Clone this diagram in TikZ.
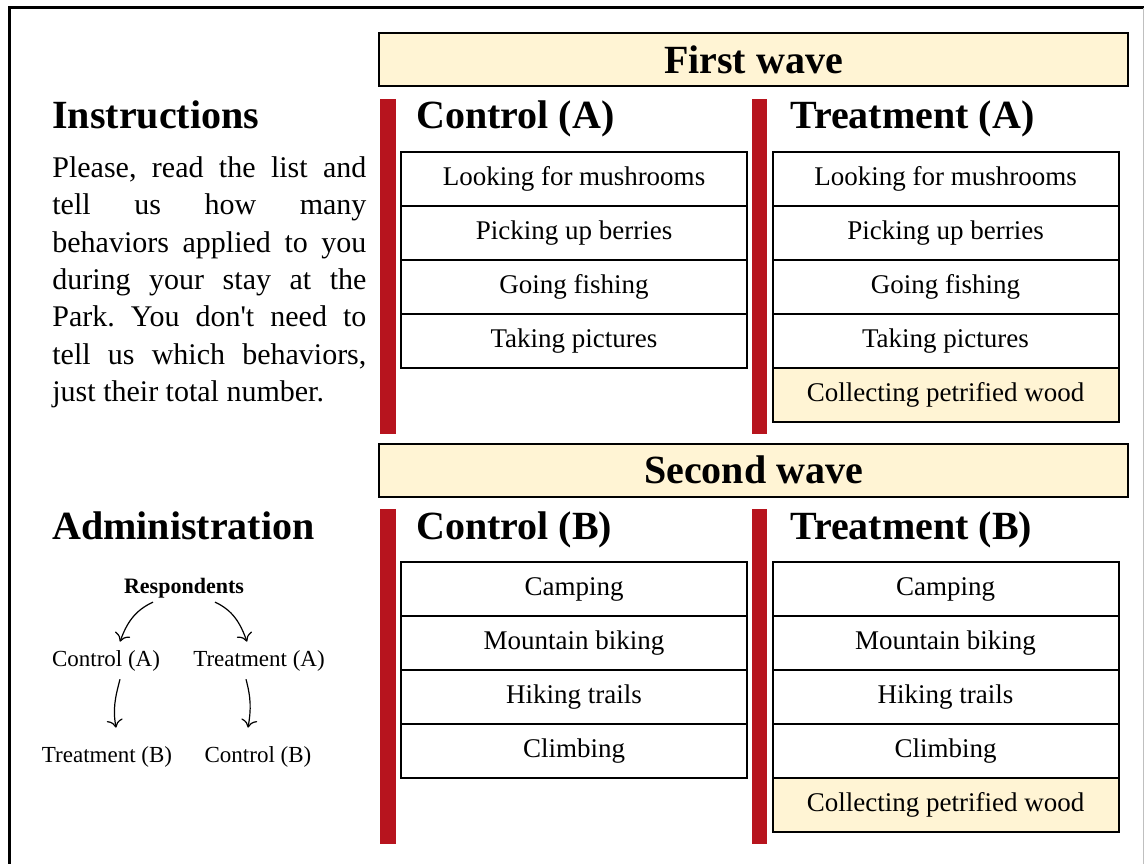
\documentclass[tikz,border=0pt]{standalone}
\usepackage{fontspec}
\setmainfont{Liberation Serif}
\usepackage{xcolor}
\usetikzlibrary{positioning,arrows.meta}
\definecolor{waveyellow}{RGB}{255,244,212}
\definecolor{barred}{RGB}{183,20,30}

\begin{document}
\begin{tikzpicture}[x=0.5pt,y=0.5pt,
        item/.style={draw,line width=1pt,outer sep=0pt,minimum width=173pt,minimum height=27pt,inner sep=0pt,font=\fontsize{13.5}{16}\selectfont},
        extra/.style={item,fill=waveyellow},
        wave/.style={draw,line width=1pt,fill=waveyellow,minimum width=374.5pt,minimum height=26.5pt,inner sep=0pt,font=\fontsize{20}{24}\selectfont\bfseries},
        head/.style={anchor=base west,inner sep=0pt,font=\fontsize{20}{24}\selectfont\bfseries},
        grp/.style={anchor=base,inner xsep=2pt,inner ysep=4pt,font=\fontsize{11.5}{14}\selectfont},
        arr/.style={-{To[length=4pt,width=8pt]},line width=0.6pt}]
        \useasboundingbox(0,0)rectangle(1145,-863);
        \clip(0,0)rectangle(1145,-863);
        \draw[line width=1.5pt](9.5,-900)|-(1143.5,-7.7);
        \draw[black!25,line width=0.5pt](1143.5,-7.7)--(1143.5,-900);

        \node[wave](w1)at(753.5,-59.5){First wave};
        \node[wave](w2)at(753.5,-470){Second wave};

        \fill[barred](380,-99)rectangle(396,-434);
        \fill[barred](752,-99)rectangle(767,-434);
        \fill[barred](380,-509)rectangle(396,-844);
        \fill[barred](752,-509)rectangle(767,-844);

        \node[head](instr)at(52,-128){Instructions};
        \node[head](admin)at(52,-539){Administration};
        \node[head](ctlA)at(416,-128){Control (A)};
        \node[head](trtA)at(790,-128){Treatment (A)};
        \node[head](ctlB)at(416,-539){Control (B)};
        \node[head](trtB)at(790,-539){Treatment (B)};

        \node[anchor=north west,inner sep=0pt,text width=157pt,align=justify,
            font=\fontsize{15}{18.7}\selectfont](txt)at(52,-156){\tolerance=9999\frenchspacing
            Please, read the list and\linebreak tell us how many\linebreak
            behaviors applied to you\linebreak during your stay at the\linebreak
            Park. You don\textquotesingle t need to\linebreak tell us which behaviors,\linebreak
            just their total number.};

        \node[item](a1)at(574,-179){Looking for mushrooms};
        \node[item,below=0pt of a1](a2){Picking up berries};
        \node[item,below=0pt of a2](a3){Going fishing};
        \node[item,below=0pt of a3](a4){Taking pictures};
        \node[item](ta1)at(945.5,-179){Looking for mushrooms};
        \node[item,below=0pt of ta1](ta2){Picking up berries};
        \node[item,below=0pt of ta2](ta3){Going fishing};
        \node[item,below=0pt of ta3](ta4){Taking pictures};
        \node[extra,below=0pt of ta4](ta5){Collecting petrified wood};

        \node[item](b1)at(574,-589){Camping};
        \node[item,below=0pt of b1](b2){Mountain biking};
        \node[item,below=0pt of b2](b3){Hiking trails};
        \node[item,below=0pt of b3](b4){Climbing};
        \node[item](tb1)at(945.5,-589){Camping};
        \node[item,below=0pt of tb1](tb2){Mountain biking};
        \node[item,below=0pt of tb2](tb3){Hiking trails};
        \node[item,below=0pt of tb3](tb4){Climbing};
        \node[extra,below=0pt of tb4](tb5){Collecting petrified wood};

        \node[anchor=base,inner sep=2pt,font=\fontsize{11}{13}\selectfont\bfseries](resp)at(184,-593){Respondents};
        \node[grp](gctlA)at(106,-666){Control (A)};
        \node[grp](gtrtA)at(259,-666){Treatment (A)};
        \node[grp](gtrtB)at(107,-762){Treatment (B)};
        \node[grp](gctlB)at(258,-762){Control (B)};
        \draw[arr]([xshift=-15.5pt]resp.south)to[out=205,in=70]([xshift=7pt]gctlA.north);
        \draw[arr]([xshift=15.5pt]resp.south)to[out=-25,in=110]([xshift=-6pt]gtrtA.north);
        \draw[arr]([xshift=7pt]gctlA.south)to[out=255,in=100]([xshift=4.5pt,yshift=5pt]gtrtB.north);
        \draw[arr]([xshift=-6.5pt]gtrtA.south)to[out=-75,in=80]([xshift=-5pt,yshift=5pt]gctlB.north);
    \end{tikzpicture}
\end{document}
